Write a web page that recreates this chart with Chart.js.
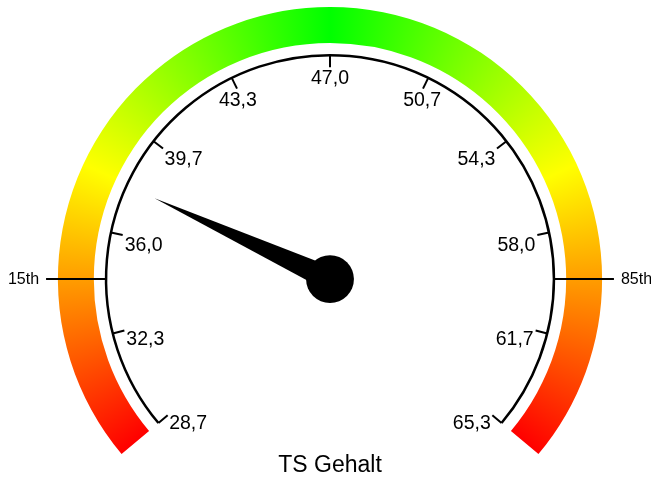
<!DOCTYPE html>
<html>
<head>
<meta charset="utf-8">
<script src="https://cdn.jsdelivr.net/npm/chart.js@4.4.0/dist/chart.umd.min.js"></script>
<style>
    html, body { margin: 0; padding: 0; background: #fff; }
</style>
</head>
<body>
<canvas id="gaugeChart" width="651" height="482"></canvas>
<script>
const gaugeMin = 28.67;
const gaugeMax = 65.33;
const tickValues = [28.67, 32.33, 36.0, 39.67, 43.33, 47.0, 50.67, 54.33, 58.0, 61.67, 65.33];
const tickLabels = ['28,7', '32,3', '36,0', '39,7', '43,3', '47,0', '50,7', '54,3', '58,0', '61,7', '65,3'];
const markerValues = [34.31, 59.69];
const markerLabels = ['15th', '85th'];
const needleValue = 37.8;
const chartTitle = 'TS Gehalt';

const bandColors = ['#ff0000', '#ffff00', '#00ff00', '#ffff00', '#ff0000'];
const rotationDeg = -130;
const sweepDeg = 260;
const fontFamily = '"Liberation Sans", Arial, sans-serif';

// conic gradient along the band, red -> yellow -> green -> yellow -> red
function bandGradient(context) {
    const chart = context.chart;
    const area = chart.chartArea;
    if (!area) return bandColors[0];
    const ctrl = chart.getDatasetMeta(0).controller;
    const cx = (area.left + area.right) / 2 + (ctrl.offsetX || 0);
    const cy = (area.top + area.bottom) / 2 + (ctrl.offsetY || 0);
    const start = (rotationDeg - 90) * Math.PI / 180;
    const grad = chart.ctx.createConicGradient(start, cx, cy);
    bandColors.forEach((c, i) => {
        grad.addColorStop((sweepDeg / 360) * i / (bandColors.length - 1), c);
    });
    grad.addColorStop(1, bandColors[bandColors.length - 1]);
    return grad;
}

const gaugeDial = {
    id: 'gaugeDial',
    afterDatasetsDraw(chart) {
        const arc = chart.getDatasetMeta(0).data[0];
        if (!arc) return;
        const ctx = chart.ctx;
        const cx = arc.x, cy = arc.y;
        const R = arc.outerRadius;
        const axisR = R * 0.823;
        const toAngle = v => arc.startAngle + (v - gaugeMin) / (gaugeMax - gaugeMin) * (arc.endAngle - arc.startAngle);

        ctx.save();
        ctx.strokeStyle = '#000';
        ctx.fillStyle = '#000';

        // axis line
        ctx.lineWidth = 2.5;
        ctx.beginPath();
        ctx.arc(cx, cy, axisR, arc.startAngle, arc.endAngle);
        ctx.stroke();

        // ticks and labels
        ctx.lineWidth = 2;
        ctx.font = '19.5px ' + fontFamily;
        ctx.textBaseline = 'top';
        tickValues.forEach((v, i) => {
            const a = toAngle(v);
            const c = Math.cos(a), s = Math.sin(a);
            ctx.beginPath();
            ctx.moveTo(cx + c * axisR, cy + s * axisR);
            ctx.lineTo(cx + c * (axisR - 12), cy + s * (axisR - 12));
            ctx.stroke();
            const lr = axisR - 14;
            ctx.textAlign = c < -0.6 ? 'left' : (c > 0.6 ? 'right' : 'center');
            ctx.fillText(tickLabels[i], cx + c * lr, cy + s * lr);
        });

        // percentile markers
        ctx.font = '16px ' + fontFamily;
        ctx.textBaseline = 'middle';
        markerValues.forEach((v, i) => {
            const a = toAngle(v);
            const c = Math.cos(a), s = Math.sin(a);
            ctx.beginPath();
            ctx.moveTo(cx + c * axisR, cy + s * axisR);
            ctx.lineTo(cx + c * (axisR + 60), cy + s * (axisR + 60));
            ctx.stroke();
            ctx.textAlign = c < 0 ? 'right' : 'left';
            ctx.fillText(markerLabels[i], cx + c * (axisR + 67), cy + s * (axisR + 67));
        });

        // needle
        const na = toAngle(needleValue);
        const len = R * 0.71;
        const half = 12;
        ctx.beginPath();
        ctx.moveTo(cx + Math.cos(na) * len, cy + Math.sin(na) * len);
        ctx.lineTo(cx + Math.cos(na + Math.PI / 2) * half, cy + Math.sin(na + Math.PI / 2) * half);
        ctx.lineTo(cx - Math.cos(na + Math.PI / 2) * half, cy - Math.sin(na + Math.PI / 2) * half);
        ctx.closePath();
        ctx.fill();
        ctx.beginPath();
        ctx.arc(cx, cy, R * 0.088, 0, Math.PI * 2);
        ctx.fill();
        ctx.restore();
    }
};

new Chart(document.getElementById('gaugeChart'), {
    type: 'doughnut',
    data: {
        labels: [chartTitle],
        datasets: [{
            data: [gaugeMax - gaugeMin],
            backgroundColor: bandGradient,
            borderWidth: 0
        }]
    },
    options: {
        responsive: false,
        animation: false,
        events: [],
        rotation: rotationDeg,
        circumference: sweepDeg,
        cutout: '86.8%',
        layout: { padding: { top: 7, left: 9, right: 0, bottom: 0 } },
        plugins: {
            legend: { display: false },
            tooltip: { enabled: false },
            title: {
                display: true,
                text: chartTitle,
                position: 'bottom',
                color: '#000',
                font: { size: 23, family: fontFamily, weight: 'normal', lineHeight: 1 },
                padding: { top: 0, bottom: 5 }
            }
        }
    },
    plugins: [gaugeDial]
});
</script>
</body>
</html>
